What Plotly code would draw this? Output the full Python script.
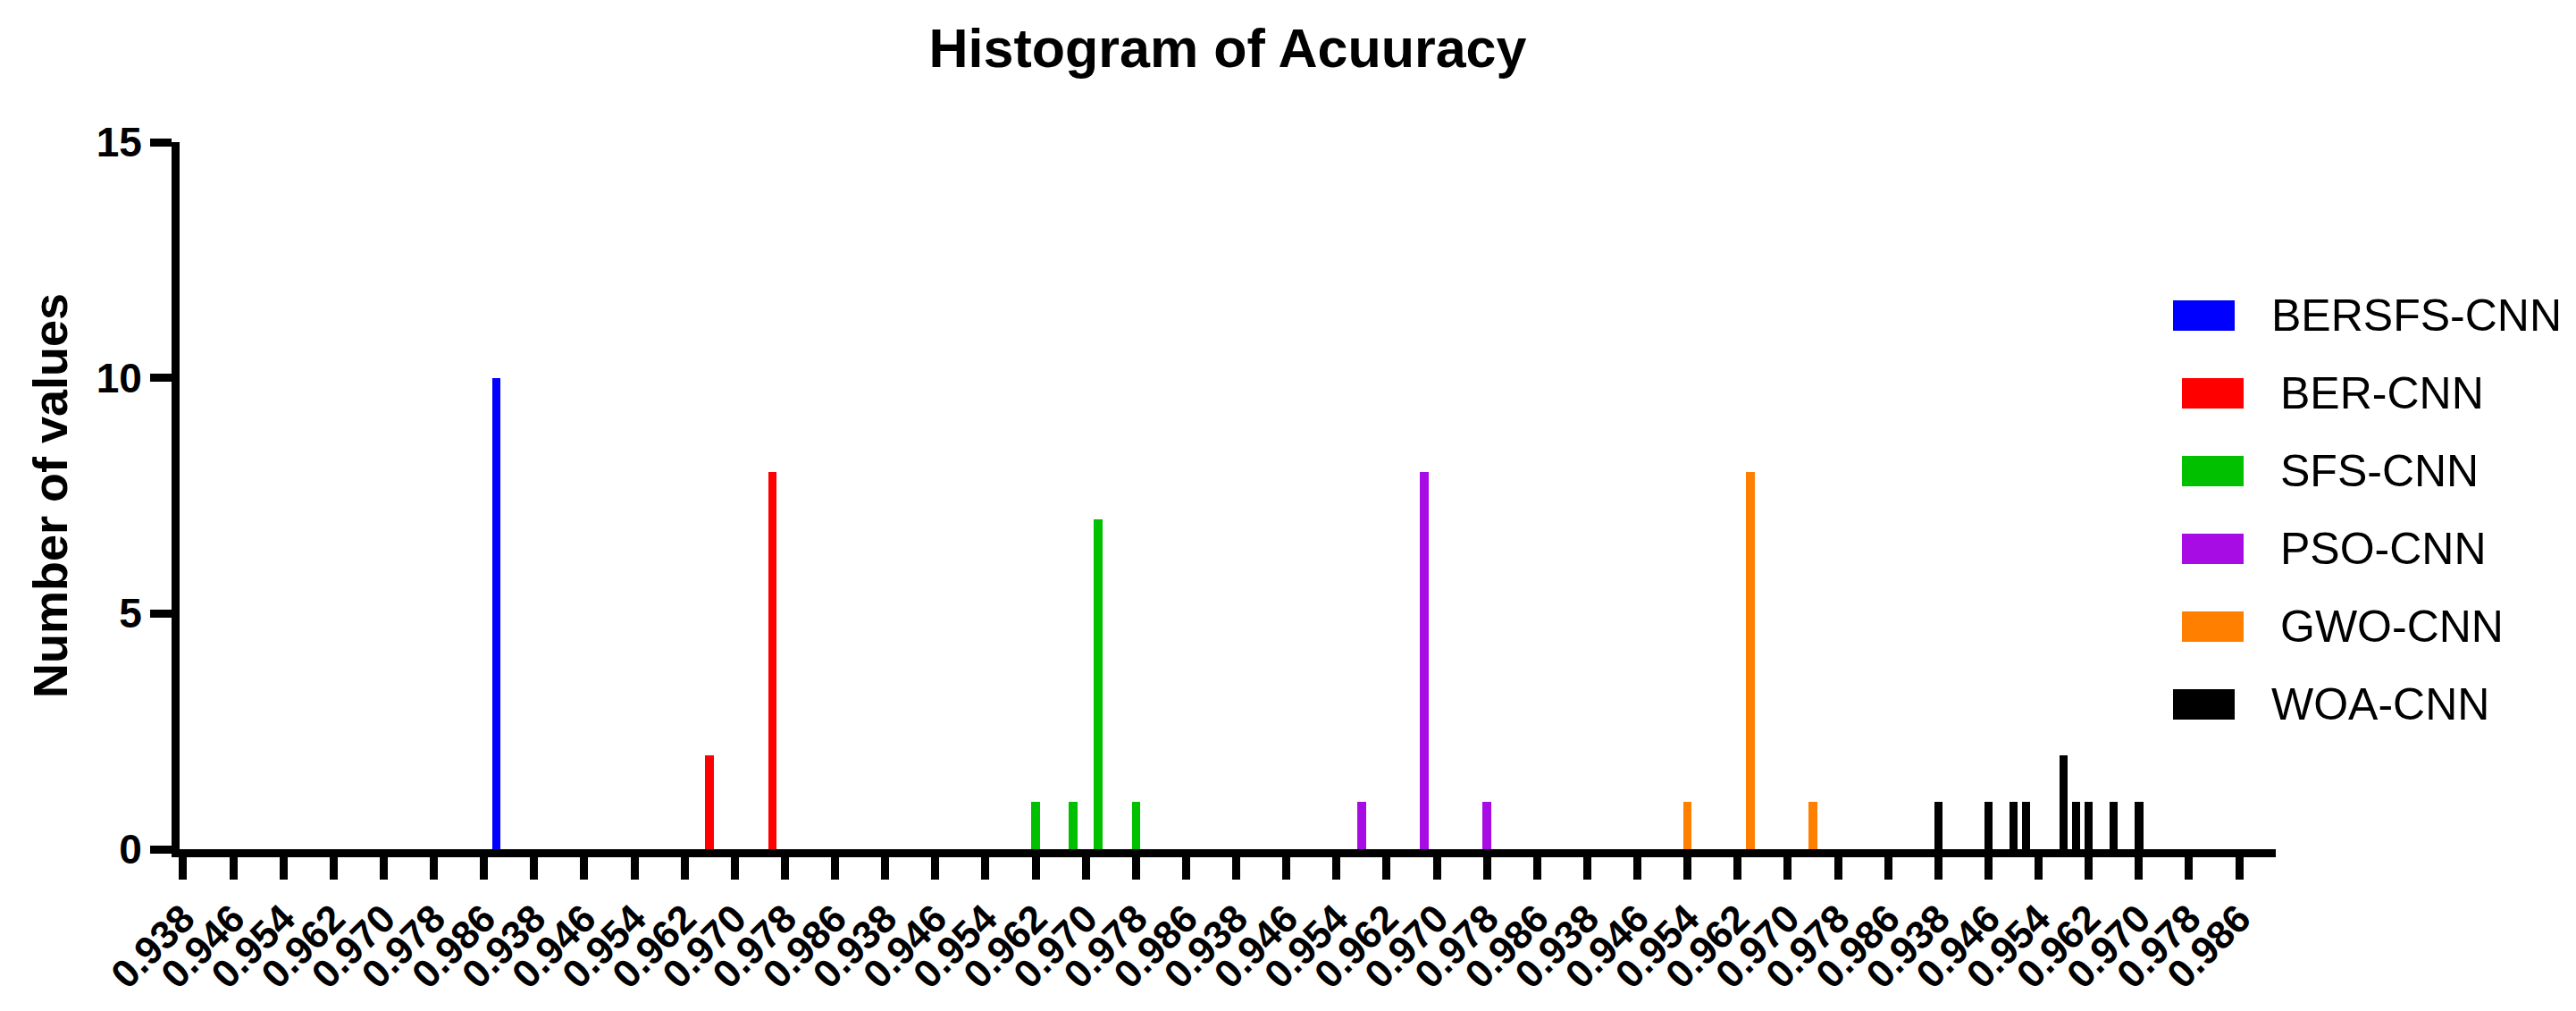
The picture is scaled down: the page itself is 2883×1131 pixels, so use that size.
import plotly.graph_objects as go

# Bin labels repeated once per model along the x axis
bin_labels = ["0.938", "0.946", "0.954", "0.962", "0.970", "0.978", "0.986"]

models = ["BERSFS-CNN", "BER-CNN", "SFS-CNN", "PSO-CNN", "GWO-CNN", "WOA-CNN"]
colors = ["#0000FF", "#FF0000", "#00C000", "#A80CE4", "#FF8000", "#000000"]

# Accuracy bin centres and number of values, per model
bersfs_acc = [0.988]
bersfs_cnt = [10]
ber_acc = [0.966, 0.976]
ber_cnt = [2, 8]
sfs_acc = [0.962, 0.968, 0.972, 0.978]
sfs_cnt = [1, 1, 7, 1]
pso_acc = [0.958, 0.968, 0.978]
pso_cnt = [1, 8, 1]
gwo_acc = [0.954, 0.964, 0.974]
gwo_cnt = [1, 8, 1]
woa_acc = [0.938, 0.946, 0.950, 0.952, 0.958, 0.960, 0.962, 0.966, 0.970]
woa_cnt = [1, 1, 1, 1, 2, 1, 1, 1, 1]

accs = [bersfs_acc, ber_acc, sfs_acc, pso_acc, gwo_acc, woa_acc]
counts = [bersfs_cnt, ber_cnt, sfs_cnt, pso_cnt, gwo_cnt, woa_cnt]

W, H = 2883, 1131
ML, MR, MT, MB = 193, 344, 151, 189
FONT = "Arial, Liberation Sans, sans-serif"

start, step = 0.938, 0.008
n_bins = len(bin_labels)

fig = go.Figure()

for g, (name, col) in enumerate(zip(models, colors)):
    # each model gets its own block of the axis
    xs = [g * n_bins + (a - start) / step for a in accs[g]]
    fig.add_trace(go.Bar(
        x=xs,
        y=counts[g],
        name=name,
        width=0.17,
        marker=dict(color=col, line=dict(width=0)),
        showlegend=False
    ))

# legend drawn by hand so the swatches can be large
plot_w = W - ML - MR
plot_h = H - MT - MB
def px(x):
    return (x - ML) / plot_w
def py(y):
    return (H - MB - y) / plot_h

# the middle rows sit a little further right in the original
row_shift = [0, 10, 10, 10, 10, 0]

for i, (name, col) in enumerate(zip(models, colors)):
    yc = 345 + 87 * i
    dx = row_shift[i]
    fig.add_shape(type="rect", xref="paper", yref="paper",
                  x0=px(2424 + dx), x1=px(2493 + dx), y0=py(yc + 17), y1=py(yc - 17),
                  fillcolor=col, line=dict(width=0))
    fig.add_annotation(text=name, xref="paper", yref="paper",
                       x=px(2532 + dx), y=py(yc), xanchor="left", yanchor="middle",
                       showarrow=False, font=dict(family=FONT, size=50, color="black"))

fig.update_layout(
    width=W, height=H,
    margin=dict(l=ML, r=MR, t=MT, b=MB),
    plot_bgcolor="white", paper_bgcolor="white",
    title=dict(text="Histogram of Acuuracy", x=0.5, xref="paper",
               y=1 - 46 / H, yref="container", yanchor="middle",
               font=dict(family=FONT, size=61, color="black", weight="bold")),
    bargap=0,
)

fig.update_xaxes(
    range=[-0.07, 41.73],
    tickvals=list(range(n_bins * len(models))),
    ticktext=bin_labels * len(models),
    tickangle=-45,
    tickfont=dict(family=FONT, size=44, color="black", weight="bold"),
    ticks="outside", ticklen=25, tickwidth=9, tickcolor="black",
    showline=True, linewidth=9, linecolor="black",
    showgrid=False, zeroline=False
)

fig.update_yaxes(
    range=[0, 15],
    tickvals=[0, 5, 10, 15],
    tickfont=dict(family=FONT, size=46, color="black", weight="bold"),
    ticks="outside", ticklen=24, tickwidth=9, tickcolor="black",
    showline=True, linewidth=9, linecolor="black",
    showgrid=False, zeroline=False,
    title=dict(text="Number of values", standoff=18,
               font=dict(family=FONT, size=54, color="black", weight="bold"))
)

fig.write_html("out.html")
